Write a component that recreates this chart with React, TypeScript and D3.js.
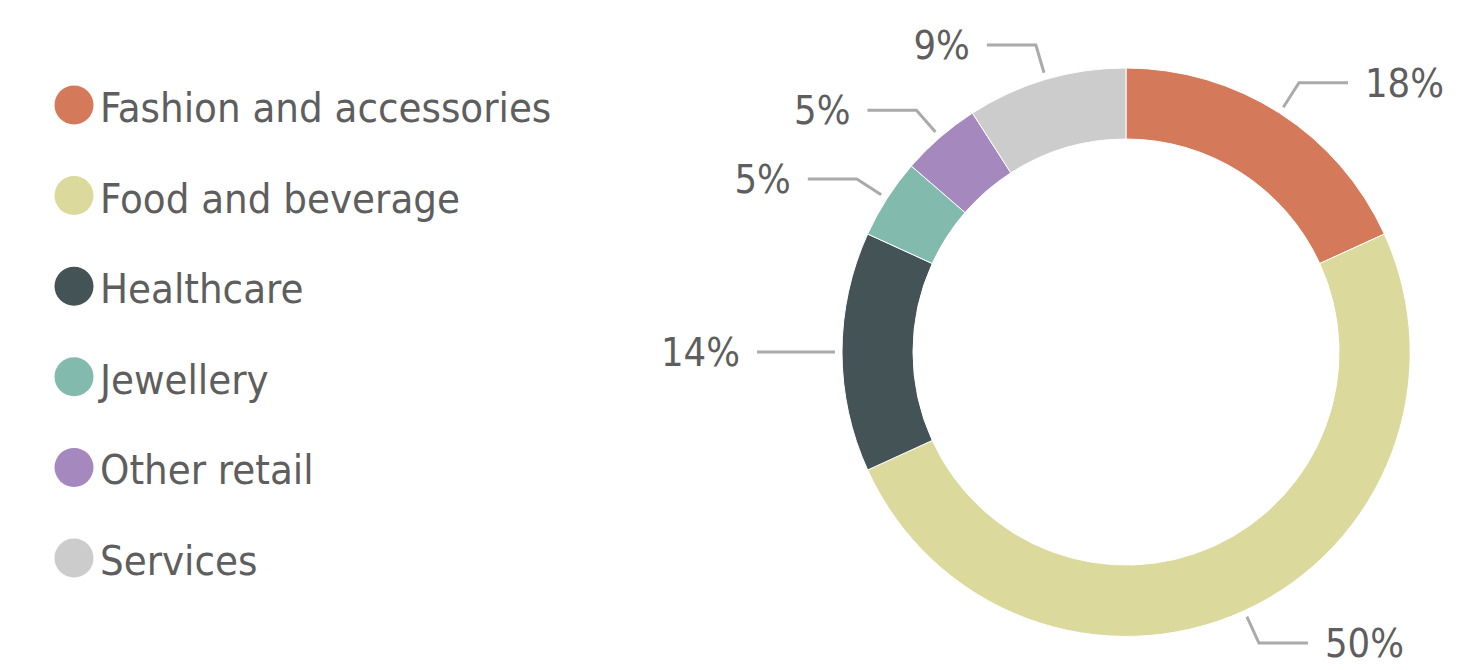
import React from "react";
import * as d3 from "d3";

const categories = [
  "Fashion and accessories",
  "Food and beverage",
  "Healthcare",
  "Jewellery",
  "Other retail",
  "Services",
];
const counts = [8, 22, 6, 2, 2, 4];
const colors = ["#d4795a", "#dbd99b", "#435356", "#82bbad", "#a488be", "#cccccc"];

const W = 1475;
const H = 670;
const cx = 1126;
const cy = 352;
const rOuter = 284;
const rInner = 213;
const FONT = "'DejaVu Sans Condensed', 'DejaVu Sans', sans-serif";
const TEXT = "#5e5e5e";

export default function App() {
  const total = d3.sum(counts);
  const pie = d3.pie<number>().sort(null).value((d) => d);
  const arcs = pie(counts);
  const arcGen = d3.arc<d3.PieArcDatum<number>>().innerRadius(rInner).outerRadius(rOuter);
  const fmt = (v: number) => `${Math.round((v / total) * 100)}%`;

  const legendY = d3.scaleLinear().domain([0, categories.length - 1]).range([105, 558]);

  return (
    <svg
      width={W}
      height={H}
      style={{ position: "absolute", left: 0, top: 0, display: "block", background: "#fff" }}
    >
      <g transform={`translate(${cx},${cy})`}>
        {arcs.map((a, i) => (
          <path key={i} d={arcGen(a) || ""} fill={colors[i]} stroke="#fff" strokeWidth={1} />
        ))}
        {arcs.map((a, i) => {
          const mid = (a.startAngle + a.endAngle) / 2;
          const s = Math.sin(mid);
          const c = -Math.cos(mid);
          const p1 = [291 * s, 291 * c];
          const p2 = [320 * s, 320 * c];
          const right = s >= 0;
          const p3 = [p2[0] + (right ? 49 : -49), p2[1]];
          const tx = p3[0] + (right ? 17 : -17);
          return (
            <g key={i}>
              <polyline
                points={[p1, p2, p3].map((p) => p.join(",")).join(" ")}
                fill="none"
                stroke="#aaaaaa"
                strokeWidth={3}
              />
              <text
                x={tx}
                y={p3[1] + 14}
                textAnchor={right ? "start" : "end"}
                fontFamily={FONT}
                fontSize={39.5}
                fill={TEXT}
              >
                {fmt(counts[i])}
              </text>
            </g>
          );
        })}
      </g>
      <g>
        {categories.map((name, i) => (
          <g key={name} transform={`translate(0,${legendY(i)})`}>
            <circle cx={74} cy={0} r={19.5} fill={colors[i]} />
            <text x={100} y={17} fontFamily={FONT} fontSize={41.5} fill={TEXT}>
              {name}
            </text>
          </g>
        ))}
      </g>
    </svg>
  );
}
